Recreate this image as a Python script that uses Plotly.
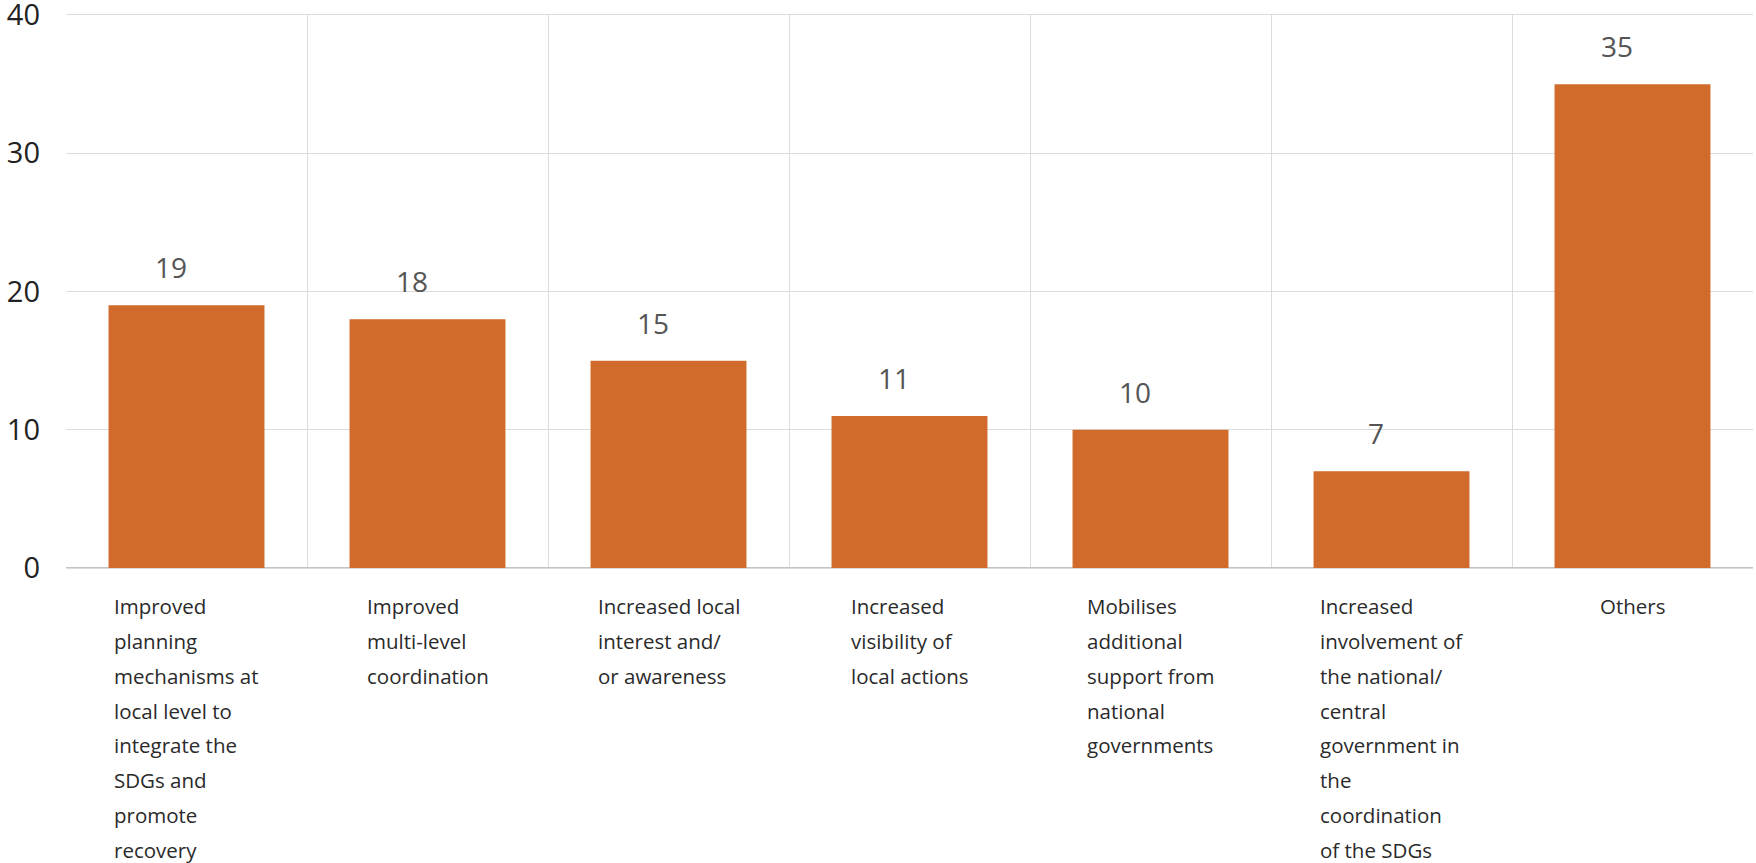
import plotly.graph_objects as go

# ---- data ----
categories = [
    "Improved planning mechanisms at local level to integrate the SDGs and promote recovery",
    "Improved multi-level coordination",
    "Increased local interest and/ or awareness",
    "Increased visibility of local actions",
    "Mobilises additional support from national governments",
    "Increased involvement of the national/ central government in the coordination of the SDGs",
    "Others",
]
label_lines = [
    ["Improved", "planning", "mechanisms at", "local level to", "integrate the", "SDGs and", "promote", "recovery"],
    ["Improved", "multi-level", "coordination"],
    ["Increased local", "interest and/", "or awareness"],
    ["Increased", "visibility of", "local actions"],
    ["Mobilises", "additional", "support from", "national", "governments"],
    ["Increased", "involvement of", "the national/", "central", "government in", "the", "coordination", "of the SDGs"],
    ["Others"],
]
values = [19, 18, 15, 11, 10, 7, 35]
y_ticks = [0, 10, 20, 30, 40]

# ---- style ----
BAR_COLOR = "#D06B2B"
GRID = "#dcdcdc"
FONT = "Open Sans"

fig = go.Figure(
    go.Bar(
        x=categories,
        y=values,
        marker=dict(color=BAR_COLOR, line=dict(width=0)),
        hoverinfo="y",
    )
)

annotations = []
for cat, v in zip(categories, values):
    annotations.append(dict(
        x=cat, y=v, xref="x", yref="y", text=str(v), showarrow=False,
        yanchor="middle", xanchor="center", yshift=38, xshift=-16,
        font=dict(family=FONT, size=28, color="#555555"),
    ))
for cat, lines in zip(categories, label_lines):
    txt = "<br>".join(f"<span style='font-size:20.5px'>{l}</span>" for l in lines)
    annotations.append(dict(
        x=cat, y=0, xref="x", yref="y", text=txt, showarrow=False,
        yanchor="top", xanchor="center", align="left", yshift=-22,
        font=dict(family=FONT, size=26.8, color="#2a2a2a"),
    ))

fig.update_layout(
    width=1756, height=863,
    margin=dict(l=66, r=3, t=15, b=295, autoexpand=False),
    paper_bgcolor="white", plot_bgcolor="white",
    bargap=0.353,
    showlegend=False,
    annotations=annotations,
    xaxis=dict(
        type="category",
        automargin=False,
        showticklabels=False,
        tickson="boundaries",
        ticks="",
        showgrid=True, gridcolor=GRID, gridwidth=1.3,
        showline=True, linecolor=GRID, linewidth=1.3, mirror=True,
    ),
    yaxis=dict(
        automargin=False,
        range=[0, 40],
        tickvals=y_ticks,
        ticktext=[str(t) for t in y_ticks],
        ticks="",
        ticklabelstandoff=25,
        ticklabeloverflow="allow",
        tickfont=dict(family=FONT, size=29, color="#222222"),
        showgrid=True, gridcolor=GRID, gridwidth=1.3,
        zeroline=True, zerolinecolor="#c4c4c4", zerolinewidth=2,
        showline=False,
    ),
)

fig.write_html(
    "out.html",
    config={"displayModeBar": False},
    post_script="document.body.style.margin='0';document.body.style.overflow='hidden';",
)
